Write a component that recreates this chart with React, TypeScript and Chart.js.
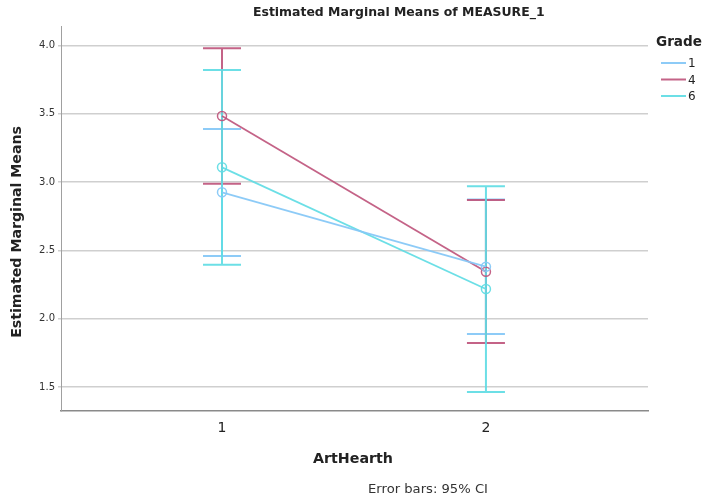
import React, { useEffect, useRef } from "react";
import { Chart, registerables } from "chart.js";

Chart.register(...registerables);

const categories = [1, 2];
const seriesNames = ["1", "4", "6"];
const grade1Mean = [2.924, 2.38];
const grade1Lower = [2.458, 1.888];
const grade1Upper = [3.387, 2.872];
const grade4Mean = [3.482, 2.343];
const grade4Lower = [2.987, 1.822];
const grade4Upper = [3.978, 2.868];
const grade6Mean = [3.107, 2.217];
const grade6Lower = [2.394, 1.463];
const grade6Upper = [3.819, 2.968];
const yTicks = [1.5, 2.0, 2.5, 3.0, 3.5, 4.0];

const colors = ["rgba(135,200,247,0.95)", "rgba(190,82,122,0.9)", "rgba(95,220,228,0.92)"];
const FONT = "'DejaVu Sans', sans-serif";

function fitText(ctx: CanvasRenderingContext2D, text: string, weight: string, target: number) {
  ctx.font = `${weight} 20px ${FONT}`;
  const w = ctx.measureText(text).width;
  const size = (20 * target) / w;
  ctx.font = `${weight} ${size}px ${FONT}`;
}

export default function App() {
  const ref = useRef<HTMLCanvasElement | null>(null);
  useEffect(() => {
    document.body.style.margin = "0";
    const means = [grade1Mean, grade4Mean, grade6Mean];
    const lowers = [grade1Lower, grade4Lower, grade6Lower];
    const uppers = [grade1Upper, grade4Upper, grade6Upper];

    const errorBars = {
      id: "errorBars",
      beforeDatasetsDraw(chart: any) {
        const ctx = chart.ctx;
        const xs = chart.scales.x;
        const ys = chart.scales.y;
        ctx.save();
        for (let s = 0; s < means.length; s++) {
          ctx.strokeStyle = colors[s];
          ctx.lineWidth = 2;
          for (let i = 0; i < categories.length; i++) {
            const x = xs.getPixelForValue(categories[i]);
            const yl = ys.getPixelForValue(lowers[s][i]);
            const yu = ys.getPixelForValue(uppers[s][i]);
            ctx.beginPath();
            ctx.moveTo(x, yl);
            ctx.lineTo(x, yu);
            ctx.moveTo(x - 19, yl);
            ctx.lineTo(x + 19, yl);
            ctx.moveTo(x - 19, yu);
            ctx.lineTo(x + 19, yu);
            ctx.stroke();
          }
        }
        ctx.restore();
      },
    };

    const texts = {
      id: "texts",
      afterDraw(chart: any) {
        const ctx = chart.ctx as CanvasRenderingContext2D;
        ctx.save();
        ctx.fillStyle = "#222";
        ctx.textBaseline = "middle";
        // title
        ctx.textAlign = "left";
        fitText(ctx, "Estimated Marginal Means of MEASURE_1", "bold", 292);
        ctx.fillText("Estimated Marginal Means of MEASURE_1", 253, 13);
        // x title
        ctx.textAlign = "center";
        fitText(ctx, "ArtHearth", "bold", 80);
        ctx.fillText("ArtHearth", 353, 459);
        // footnote
        ctx.fillStyle = "#333";
        fitText(ctx, "Error bars: 95% CI", "normal", 120);
        ctx.fillText("Error bars: 95% CI", 428, 490);
        // y title
        ctx.fillStyle = "#222";
        ctx.save();
        ctx.translate(17, 232);
        ctx.rotate(-Math.PI / 2);
        fitText(ctx, "Estimated Marginal Means", "bold", 212);
        ctx.fillText("Estimated Marginal Means", 0, 0);
        ctx.restore();
        // legend
        ctx.textAlign = "left";
        fitText(ctx, "Grade", "bold", 46);
        ctx.fillText("Grade", 656, 42);
        ctx.font = `normal 12px ${FONT}`;
        for (let s = 0; s < seriesNames.length; s++) {
          const y = 63 + s * 16.5;
          ctx.strokeStyle = colors[s];
          ctx.lineWidth = 2;
          ctx.beginPath();
          ctx.moveTo(661, y);
          ctx.lineTo(686, y);
          ctx.stroke();
          ctx.fillStyle = "#222";
          ctx.fillText(seriesNames[s], 688, y + 1);
        }
        ctx.restore();
      },
    };

    const chart = new Chart(ref.current as HTMLCanvasElement, {
      type: "line",
      data: {
        datasets: [grade1Mean, grade4Mean, grade6Mean].map((m, s) => ({
          label: seriesNames[s],
          data: categories.map((c, i) => ({ x: c, y: m[i] })),
          borderColor: colors[s],
          borderWidth: 1.8,
          pointStyle: "circle",
          pointRadius: 4.5,
          pointBorderWidth: 1.5,
          pointBackgroundColor: "rgba(0,0,0,0)",
          pointBorderColor: colors[s],
          fill: false,
          tension: 0,
        })),
      },
      options: {
        animation: false,
        responsive: false,
        layout: { padding: { left: 0, right: 57, top: 26, bottom: 0 } },
        plugins: { legend: { display: false }, title: { display: false }, tooltip: { enabled: false } },
        scales: {
          x: {
            type: "linear",
            min: 0.39,
            max: 2.614,
            afterBuildTicks: (scale: any) => {
              scale.ticks = categories.map((v) => ({ value: v }));
            },
            afterFit: (scale: any) => {
              scale.height = 90;
            },
            grid: { display: false, drawTicks: false },
            border: { display: true, color: "#8a8a8a", width: 1.5 },
            ticks: {
              padding: 9,
              color: "#222",
              font: { family: FONT, size: 14 },
              callback: (v: any) => String(v),
            },
          },
          y: {
            type: "linear",
            min: 1.324,
            max: 4.141,
            afterBuildTicks: (scale: any) => {
              scale.ticks = yTicks.map((v) => ({ value: v }));
            },
            afterFit: (scale: any) => {
              scale.width = 61;
            },
            grid: { color: "#cfcfcf", lineWidth: 1.5, drawTicks: true, tickLength: 3 },
            border: { display: true, color: "#a0a0a0", width: 1 },
            ticks: {
              padding: 3,
              color: "#333",
              font: { family: FONT, size: 10 },
              callback: (v: any) => Number(v).toFixed(1),
            },
          },
        },
      },
      plugins: [errorBars, texts],
    } as any);
    return () => chart.destroy();
  }, []);
  return (
    <div style={{ width: 705, height: 501 }}>
      <canvas ref={ref} width={705} height={501} style={{ display: "block" }} />
    </div>
  );
}
